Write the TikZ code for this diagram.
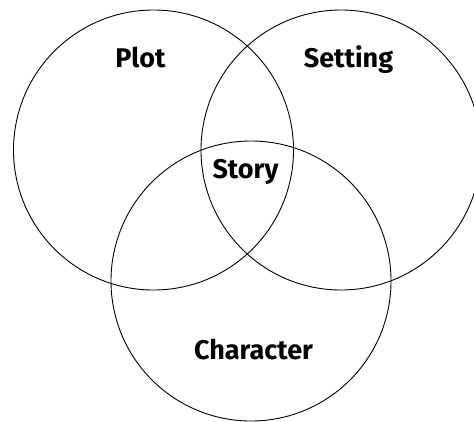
\documentclass[tikz,border=0pt]{standalone}
\usepackage{fontspec}
\setsansfont{Fira Sans}

\begin{document}
\begin{tikzpicture}[x=1pt,y=-1pt]

\useasboundingbox (0,0) rectangle (474,421);
\clip (0,0) rectangle (474,421);

\begin{scope}[every node/.style={circle,draw,line width=0.9pt,minimum size=280pt,inner sep=0pt}]
	\node (plotc) at (153.5,150) {};
	\node (settingc) at (341,150) {};
	\node (characterc) at (251,281) {};
\end{scope}

\begin{scope}[every node/.style={anchor=base,inner sep=0pt,
font=\sffamily\bfseries\fontsize{27}{32}\selectfont}]
	\node (plot) at (140.5,67) {Plot};
	\node (setting) at (348.5,67) {Setting};
	\node (story) at (245.5,178) {Story};
	\node (character) at (253.5,359) {Character};
\end{scope}

\end{tikzpicture}
\end{document}
